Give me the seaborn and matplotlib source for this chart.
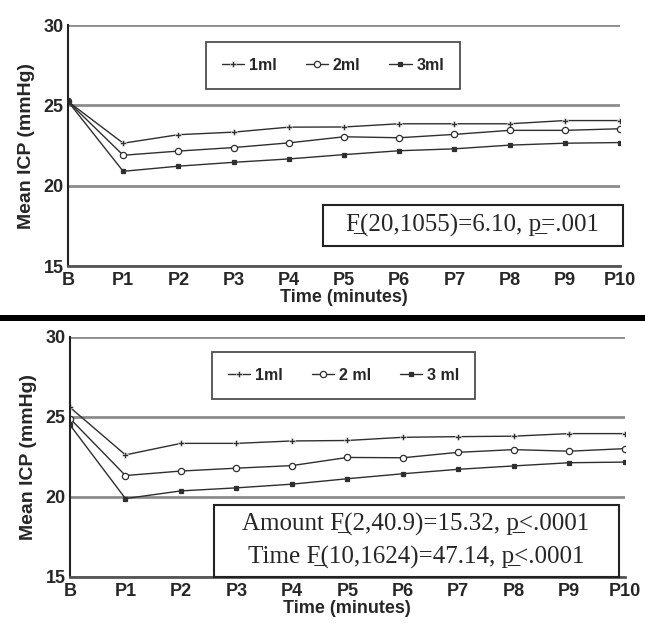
import matplotlib
matplotlib.use('Agg')
import matplotlib.pyplot as plt
import seaborn as sns
import pandas as pd
from matplotlib.patches import Rectangle

# ---------------- data ----------------
time_labels = ['B', 'P1', 'P2', 'P3', 'P4', 'P5', 'P6', 'P7', 'P8', 'P9', 'P10']

top_names = ['1ml', '2ml', '3ml']
top_1ml = [25.25, 22.65, 23.18, 23.34, 23.65, 23.66, 23.86, 23.86, 23.86, 24.06, 24.06]
top_2ml = [25.25, 21.90, 22.16, 22.38, 22.67, 23.05, 22.99, 23.20, 23.45, 23.45, 23.55]
top_3ml = [25.25, 20.90, 21.22, 21.46, 21.67, 21.94, 22.18, 22.30, 22.53, 22.65, 22.69]

bot_names = ['1ml', '2 ml', '3 ml']
bot_1ml = [25.60, 22.63, 23.35, 23.35, 23.50, 23.53, 23.73, 23.77, 23.80, 23.96, 23.96]
bot_2ml = [24.90, 21.34, 21.62, 21.80, 21.96, 22.47, 22.45, 22.79, 22.96, 22.86, 23.02]
bot_3ml = [24.50, 19.90, 20.38, 20.57, 20.80, 21.14, 21.45, 21.73, 21.94, 22.14, 22.18]

y_ticks = [15, 20, 25, 30]

U = '\u0332'  # combining underline (APA-style underlined statistic symbols)
top_stats = ['F' + U + '(20,1055)=6.10, p' + U + '=.001']
bot_stats = ['Amount F' + U + '(2,40.9)=15.32, p' + U + '<.0001',
             'Time F' + U + '(10,1624)=47.14, p' + U + '<.0001']

# ---------------- style ----------------
sns.set_style('white')
plt.rcParams['font.family'] = ['Liberation Sans', 'DejaVu Sans']

fig = plt.figure(figsize=(6.45, 6.29), dpi=100)
ax1 = fig.add_axes([0.1054, 0.577, 0.856, 0.383])
ax2 = fig.add_axes([0.1085, 0.0827, 0.860, 0.3816])

marker_list = ['P', 'o', 's']
marker_sizes = [5, 4.5, 3]
line_col = '#2f2f2f'


def draw(ax, series, names, leg_center, box, stats, stat_ys):
    rows = []
    for name, vals in zip(names, series):
        for i, v in enumerate(vals):
            rows.append({'idx': i, 'ICP': v, 'Amount': name})
    df = pd.DataFrame(rows)
    sns.lineplot(data=df, x='idx', y='ICP', hue='Amount', style='Amount',
                 markers=dict(zip(names, marker_list)), dashes=False,
                 palette={n: line_col for n in names}, linewidth=1.0,
                 legend=False, ax=ax, sort=False)
    handles = list(ax.lines[:3])
    for ln, ms in zip(handles, marker_sizes):
        ln.set_markersize(ms)
        ln.set_markeredgewidth(0.9)
        ln.set_markeredgecolor(line_col)
        ln.set_markerfacecolor(line_col)
    handles[0].set_markeredgecolor('white')
    handles[0].set_markeredgewidth(0.4)
    handles[1].set_markerfacecolor('white')

    ax.set_xlim(0, 10)
    ax.set_ylim(15, 30)
    ax.set_yticks(y_ticks)
    ax.set_yticklabels([str(t) for t in y_ticks], fontweight='bold', fontsize=13)
    ax.set_xticks(range(len(time_labels)))
    ax.set_xticklabels(time_labels, fontweight='bold', fontsize=13)
    ax.tick_params(axis='y', length=0, pad=3)
    ax.tick_params(axis='x', direction='in', length=4, width=1, color='#444444', pad=4)
    ax.set_xlabel('Time (minutes)', fontweight='bold', fontsize=13, labelpad=0)
    ax.set_ylabel('Mean ICP (mmHg)', fontweight='bold', fontsize=14, labelpad=6)

    ax.grid(axis='y', color='#8c8c8c', linewidth=2)
    ax.grid(axis='x', visible=False)
    ax.set_axisbelow(True)
    for s in ['top', 'right']:
        ax.spines[s].set_visible(False)
    ax.spines['left'].set_color('#222222')
    ax.spines['left'].set_linewidth(1.5)
    ax.spines['bottom'].set_color('#555555')
    ax.spines['bottom'].set_linewidth(2)

    leg = ax.legend(handles=handles, labels=names, loc='center',
                    bbox_to_anchor=leg_center, ncol=3, frameon=True,
                    fancybox=False, edgecolor='#222222', borderpad=1.0,
                    columnspacing=1.8, handlelength=1.4, handletextpad=0.3,
                    prop={'weight': 'bold', 'size': 11.5})
    leg.get_frame().set_linewidth(1.3)

    ax.add_patch(Rectangle((box[0], box[1]), box[2], box[3], transform=ax.transAxes,
                           facecolor='white', edgecolor='#222222', linewidth=1.5,
                           clip_on=False, zorder=5))
    cx = box[0] + box[2] / 2
    for txt, y in zip(stats, stat_ys):
        ax.text(cx, y, txt, transform=ax.transAxes, ha='center', va='center',
                fontsize=18, family=['Liberation Serif', 'DejaVu Serif'], zorder=6)


draw(ax1, [top_1ml, top_2ml, top_3ml], top_names, (0.48, 0.834),
     (0.462, 0.083, 0.543, 0.170), top_stats, [0.168])
draw(ax2, [bot_1ml, bot_2ml, bot_3ml], bot_names, (0.493, 0.84),
     (0.259, 0.0, 0.730, 0.30), bot_stats, [0.217, 0.081])

# thick separator between the panels
fig.add_artist(Rectangle((0, 1 - 321 / 629), 1, 6 / 629, transform=fig.transFigure,
                         facecolor='black', edgecolor='none'))

fig.savefig('out.png', dpi=100)
